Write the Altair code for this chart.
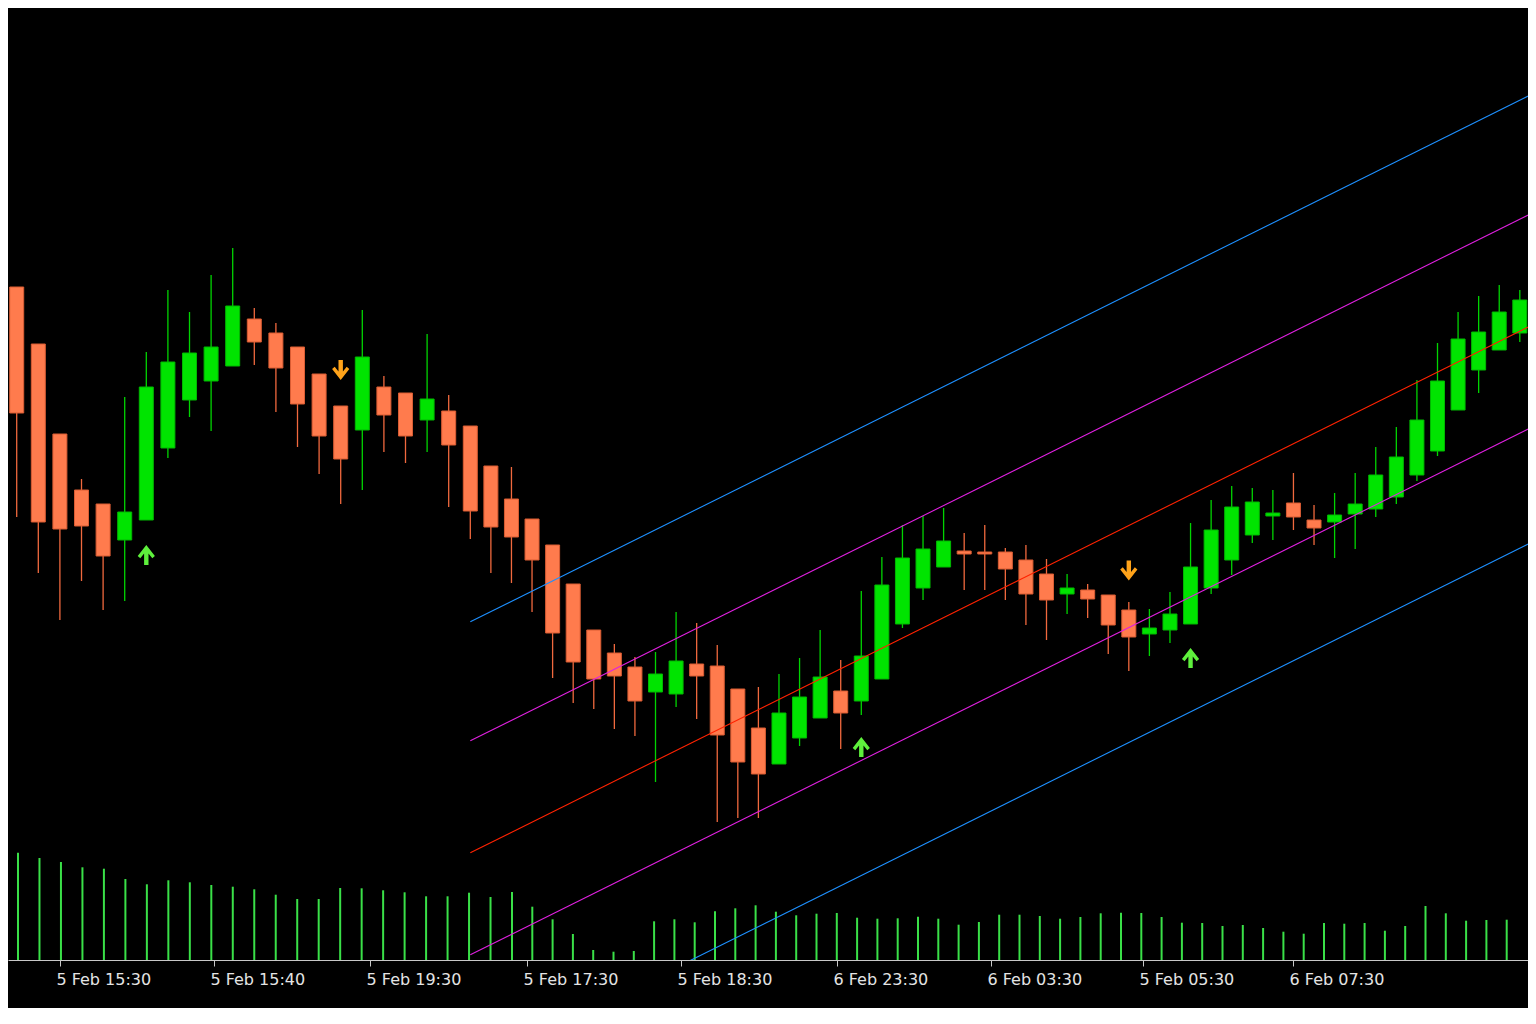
import json
import altair as alt
import pandas as pd

# ---------------- data ----------------
opens = [1.1213, 1.1156, 1.1066, 1.1010, 1.0996, 1.0960, 1.0980, 1.1052, 1.1100, 1.1119,
         1.1134, 1.1181, 1.1167, 1.1153, 1.1126, 1.1094, 1.1070, 1.1113, 1.1107, 1.1080,
         1.1089, 1.1074, 1.1034, 1.1001, 1.0981, 1.0955, 1.0916, 1.0870, 1.0847, 1.0833,
         1.0808, 1.0806, 1.0836, 1.0834, 1.0811, 1.0772, 1.0736, 1.0762, 1.0782, 1.0809,
         1.0799, 1.0821, 1.0876, 1.0912, 1.0933, 1.0949, 1.0948, 1.0948, 1.0940, 1.0926,
         1.0906, 1.0910, 1.0905, 1.0890, 1.0866, 1.0870, 1.0876, 1.0912, 1.0940, 1.0965,
         1.0984, 1.0997, 1.0980, 1.0978, 1.0986, 1.0991, 1.1003, 1.1025, 1.1049, 1.1090,
         1.1130, 1.1150, 1.1167, 1.1183]
highs = [1.1213, 1.1156, 1.1066, 1.1021, 1.0996, 1.1103, 1.1148, 1.1210, 1.1188, 1.1225,
         1.1252, 1.1192, 1.1177, 1.1153, 1.1126, 1.1094, 1.1190, 1.1124, 1.1107, 1.1166,
         1.1105, 1.1074, 1.1034, 1.1033, 1.0981, 1.0955, 1.0916, 1.0870, 1.0856, 1.0843,
         1.0848, 1.0888, 1.0877, 1.0855, 1.0811, 1.0813, 1.0826, 1.0842, 1.0870, 1.0840,
         1.0909, 1.0943, 1.0975, 1.0984, 1.0992, 1.0967, 1.0975, 1.0952, 1.0955, 1.0941,
         1.0926, 1.0916, 1.0905, 1.0898, 1.0891, 1.0908, 1.0977, 1.1000, 1.1014, 1.1012,
         1.1010, 1.1027, 1.0995, 1.1007, 1.1027, 1.1053, 1.1073, 1.1120, 1.1157, 1.1188,
         1.1204, 1.1215, 1.1210, 1.1200]
lows = [1.0983, 1.0927, 1.0880, 1.0919, 1.0890, 1.0899, 1.0980, 1.1042, 1.1083, 1.1069,
        1.1134, 1.1135, 1.1088, 1.1053, 1.1026, 1.0996, 1.1010, 1.1048, 1.1037, 1.1048,
        1.0993, 1.0961, 1.0927, 1.0917, 1.0888, 1.0822, 1.0797, 1.0791, 1.0771, 1.0764,
        1.0718, 1.0793, 1.0781, 1.0678, 1.0682, 1.0682, 1.0736, 1.0754, 1.0782, 1.0751,
        1.0785, 1.0821, 1.0872, 1.0900, 1.0933, 1.0910, 1.0910, 1.0900, 1.0875, 1.0860,
        1.0886, 1.0882, 1.0846, 1.0829, 1.0844, 1.0857, 1.0876, 1.0906, 1.0925, 1.0957,
        1.0960, 1.0970, 1.0955, 1.0942, 1.0951, 1.0983, 1.0996, 1.1019, 1.1044, 1.1090,
        1.1107, 1.1150, 1.1158, 1.1170]
closes = [1.1087, 1.0978, 1.0971, 1.0974, 1.0944, 1.0988, 1.1113, 1.1138, 1.1147, 1.1153,
          1.1194, 1.1158, 1.1132, 1.1096, 1.1064, 1.1041, 1.1143, 1.1085, 1.1064, 1.1101,
          1.1055, 1.0989, 1.0973, 1.0963, 1.0940, 1.0867, 1.0838, 1.0821, 1.0824, 1.0799,
          1.0826, 1.0839, 1.0824, 1.0765, 1.0738, 1.0726, 1.0787, 1.0803, 1.0823, 1.0787,
          1.0844, 1.0915, 1.0942, 1.0951, 1.0959, 1.0946, 1.0946, 1.0931, 1.0906, 1.0900,
          1.0912, 1.0901, 1.0875, 1.0863, 1.0872, 1.0886, 1.0933, 1.0970, 1.0993, 1.0998,
          1.0987, 1.0983, 1.0972, 1.0985, 1.0996, 1.1025, 1.1043, 1.1080, 1.1119, 1.1161,
          1.1168, 1.1188, 1.1200, 1.1192]

volumes = [1073, 1020, 980, 927, 913, 810, 757, 797, 777, 750,
           733, 707, 653, 610, 610, 720, 717, 697, 677, 637,
           637, 673, 630, 680, 533, 407, 260, 100, 83, 90,
           387, 407, 377, 487, 517, 547, 483, 447, 463, 470,
           423, 413, 417, 433, 413, 353, 380, 453, 453, 440,
           413, 430, 467, 473, 470, 430, 373, 370, 340, 350,
           320, 283, 263, 370, 363, 370, 293, 340, 540, 467,
           393, 400, 403]

# regression channel (mid line at start / end bar, band offsets)
chan_bars = [21, 74]
chan_mid = [1.06472, 1.11893]
chan_names = ["upper2", "upper1", "mid", "lower1", "lower2"]
chan_offsets = [0.0231, 0.0112, 0.0, -0.0102, -0.0217]
chan_colors = ["#1e90ff", "#e020e0", "#ff2200", "#e020e0", "#1e90ff"]

# signal arrows
arrow_bars = [6, 15, 40, 53, 56]
arrow_price = [1.0945, 1.1130, 1.0753, 1.09295, 1.0842]
arrow_dir = ["up", "down", "up", "down", "up"]

# x axis ticks
tick_bars = [2.0, 9.13, 16.36, 23.76, 31.24, 38.82, 46.3, 53.69, 60.98]
tick_labels = ["5 Feb 15:30", "5 Feb 15:40", "5 Feb 19:30", "5 Feb 17:30", "5 Feb 18:30",
               "6 Feb 23:30", "6 Feb 03:30", "5 Feb 05:30", "6 Feb 07:30"]

assert len(opens) == len(highs) == len(lows) == len(closes)

# ---------------- tables ----------------
candles = pd.DataFrame({"bar": list(range(len(opens))), "open": opens, "high": highs,
                        "low": lows, "close": closes})
vol_df = pd.DataFrame({"vbar": list(range(len(volumes))), "vol": volumes})
rows = []
for n, off in zip(chan_names, chan_offsets):
    for b, m in zip(chan_bars, chan_mid):
        rows.append({"bar": b, "price": m + off, "line": n})
chan_df = pd.DataFrame(rows)
arrow_df = pd.DataFrame({"bar": arrow_bars, "price": arrow_price, "dir": arrow_dir})

W, H = 1520, 952
xscale = alt.Scale(domain=[-0.403, 21, 72.398], range=[0, 462.3, W], nice=False, zero=False,
                   padding=0)
vxscale = alt.Scale(domain=[0, 23, 72], range=[10, 504, 1498.7], nice=False, zero=False,
                    padding=0)
yscale = alt.Scale(domain=[1.0540, 1.1492], nice=False, zero=False, padding=0)
vyscale = alt.Scale(domain=[0, 9520], nice=False, padding=0)

label_expr = f"{json.dumps(tick_labels)}[indexof({json.dumps(tick_bars)}, datum.value)]"
xaxis = alt.Axis(values=tick_bars, labelExpr=label_expr, title=None, grid=False,
                 domainColor="#c8c8c8", domainWidth=1, tickColor="#c8c8c8", tickSize=6,
                 tickWidth=1, labelColor="#e4e4e4", labelFont="DejaVu Sans", labelFontSize=16,
                 labelAlign="left", labelBaseline="top", labelPadding=5, labelOffset=-4,
                 labelOverlap=False, labelFlush=False, labelBound=False, orient="bottom")

X = alt.X("bar:Q", scale=xscale, axis=xaxis)
bull = "datum.close >= datum.open"

volume = alt.Chart(vol_df).mark_rule(strokeWidth=2, color="#3ae048").encode(
    x=alt.X("vbar:Q", scale=vxscale, axis=None),
    y=alt.Y("vol:Q", scale=vyscale, axis=None),
    y2=alt.datum(0),
)

wicks = alt.Chart(candles).mark_rule(strokeWidth=1.3, clip=True).encode(
    x=X,
    y=alt.Y("low:Q", scale=yscale, axis=None),
    y2="high:Q",
    color=alt.condition(bull, alt.value("#00d400"), alt.value("#f0693e")),
)

bodies = alt.Chart(candles).mark_bar(size=14, strokeWidth=1, clip=True).encode(
    x=X,
    y=alt.Y("open:Q", scale=yscale, axis=None),
    y2="close:Q",
    fill=alt.condition(bull, alt.value("#00e400"), alt.value("#ff7b4d")),
    stroke=alt.condition(bull, alt.value("#00b800"), alt.value("#d95c33")),
)

lines = alt.Chart(chan_df).mark_line(strokeWidth=1.1, clip=True).encode(
    x=X,
    y=alt.Y("price:Q", scale=yscale, axis=None),
    color=alt.Color("line:N", scale=alt.Scale(domain=chan_names, range=chan_colors), legend=None),
)

UP = "M0,-1 L0.86,0.1 L0.6,0.32 L0.22,-0.16 L0.22,1 L-0.22,1 L-0.22,-0.16 L-0.6,0.32 L-0.86,0.1 Z"
DOWN = "M0,1 L0.86,-0.1 L0.6,-0.32 L0.22,0.16 L0.22,-1 L-0.22,-1 L-0.22,0.16 L-0.6,-0.32 L-0.86,-0.1 Z"

up_arrows = alt.Chart(arrow_df).transform_filter("datum.dir == 'up'").mark_point(
    shape=UP, filled=True, size=400, color="#5ef03c", opacity=1, strokeWidth=0, clip=True
).encode(x=X, y=alt.Y("price:Q", scale=yscale, axis=None))

down_arrows = alt.Chart(arrow_df).transform_filter("datum.dir == 'down'").mark_point(
    shape=DOWN, filled=True, size=400, color="#ffa31a", opacity=1, strokeWidth=0, clip=True
).encode(x=X, y=alt.Y("price:Q", scale=yscale, axis=None))

price = alt.layer(wicks, bodies, lines, up_arrows, down_arrows)

chart = alt.layer(volume, price).resolve_scale(x="independent", y="independent").properties(
    width=W, height=H,
    autosize=alt.AutoSizeParams(type="none"),
    padding={"left": 0, "top": 0, "right": 0, "bottom": 48},
    background="#000000",
).configure_view(strokeWidth=0)

chart.save("out.html", embed_options={"renderer": "svg", "actions": False})
